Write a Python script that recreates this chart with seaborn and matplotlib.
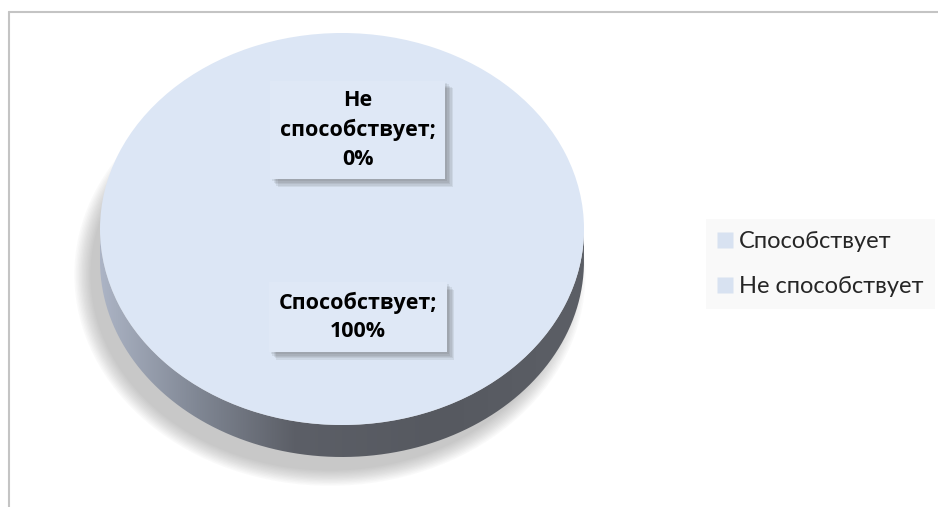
import textwrap
import numpy as np
import matplotlib.pyplot as plt
import seaborn as sns
from matplotlib.patches import Ellipse, PathPatch
from matplotlib.path import Path
from matplotlib.lines import Line2D
import matplotlib.patheffects as pe

# === Data ===
categories = ['Способствует', 'Не способствует']
shares = [100, 0]
slice_colors = ['#dce6f5', '#dce6f5']

# label anchor points (in pie units) and legend marker colour
label_pos = [(0.065, -0.45), (0.065, 0.505)]
legend_color = '#d8e2f1'

sns.set_theme(style='white')
plt.rcParams['font.family'] = ['Lato', 'DejaVu Sans']

W, H = 938, 507
fig = plt.figure(figsize=(W / 100, H / 100), dpi=100)
fig.patch.set_facecolor('white')

# pie axes: unit circle -> ellipse centred at (342, 229) px, a=242, b=196
cx, cy, a, b = 342, 229, 242, 196
left_px, right_px, top_px, bot_px = 40, 640, 20, 490
ax = fig.add_axes([left_px / W, 1 - bot_px / H,
                   (right_px - left_px) / W, (bot_px - top_px) / H])
depth = 32 / b

# === Soft shadow ===
for k in range(12):
    ax.add_patch(Ellipse((-0.05, -depth - 0.07), 2 * (0.99 + 0.006 * k), 2 * (1.0 + 0.007 * k),
                         fc='#707070', ec='none', alpha=0.035, zorder=0))

# === Pie side with gradient ===
t = np.linspace(np.pi, 2 * np.pi, 300)
xs = np.concatenate([np.cos(t), np.cos(t[::-1])])
ys = np.concatenate([np.sin(t), np.sin(t[::-1]) - depth])
side = PathPatch(Path(np.column_stack([xs, ys])), fc='none', ec='none', zorder=1)
ax.add_patch(side)
gx = np.linspace(-1, 1, 400)
stops = [-1.0, -0.6, -0.2, 0.4, 1.0]
rgb_stops = np.array([[172, 180, 197], [128, 135, 148], [92, 95, 103], [86, 89, 96], [92, 95, 102]]) / 255
img = np.stack([np.interp(gx, stops, rgb_stops[:, c]) for c in range(3)], axis=-1)[None, :, :]
im = ax.imshow(img, extent=[-1, 1, -1 - depth, 0], aspect='auto', zorder=1)
im.set_clip_path(side)

# === Pie top ===
wedges, _ = ax.pie(shares, colors=slice_colors, radius=1, startangle=90,
                   counterclock=False, wedgeprops=dict(linewidth=0))
for w in wedges:
    w.set_zorder(2)

# === Data labels ===
shadow = [pe.SimplePatchShadow(offset=(1.5 + i, -1.5 - i), shadow_rgbFace='#404040', alpha=0.09)
          for i in range(5)]
for (lx, ly), cat, val in zip(label_pos, categories, shares):
    txt = textwrap.fill(f"{cat};", 14) + f"\n{val}%"
    tx = ax.text(lx, ly, txt, ha='center', va='center', fontsize=15.5, fontweight='bold',
                 family=['Open Sans', 'DejaVu Sans'],
                 color='black', linespacing=1.45, zorder=5,
                 bbox=dict(boxstyle='square,pad=0.45', fc='#dfe8f6', ec='none'))
    tx.get_bbox_patch().set_path_effects(shadow + [pe.Normal()])

ax.set_aspect('auto')
ax.set_xlim((left_px - cx) / a, (right_px - cx) / a)
ax.set_ylim((cy - bot_px) / b, (cy - top_px) / b)
ax.axis('off')

# === Legend ===
handles = [Line2D([], [], marker='s', linestyle='none', markersize=11,
                  markerfacecolor=legend_color, markeredgecolor='none') for _ in categories]
leg = fig.legend(handles, categories, loc='center left',
                 bbox_to_anchor=(706 / W, 1 - 264 / H), fontsize=17,
                 frameon=True, fancybox=False, handlelength=0.6, handletextpad=0.3,
                 labelspacing=1.0, borderpad=0.5, borderaxespad=0)
leg.get_frame().set_facecolor('#f8f8f8')
leg.get_frame().set_edgecolor('none')

# === Chart frame ===
fig.add_artist(Line2D([9 / W, 1], [1 - 12 / H, 1 - 12 / H], color='#c4c4c4', lw=1.5))
fig.add_artist(Line2D([9 / W, 9 / W], [0, 1 - 12 / H], color='#c4c4c4', lw=1.5))

fig.savefig('out.png', dpi=100)
